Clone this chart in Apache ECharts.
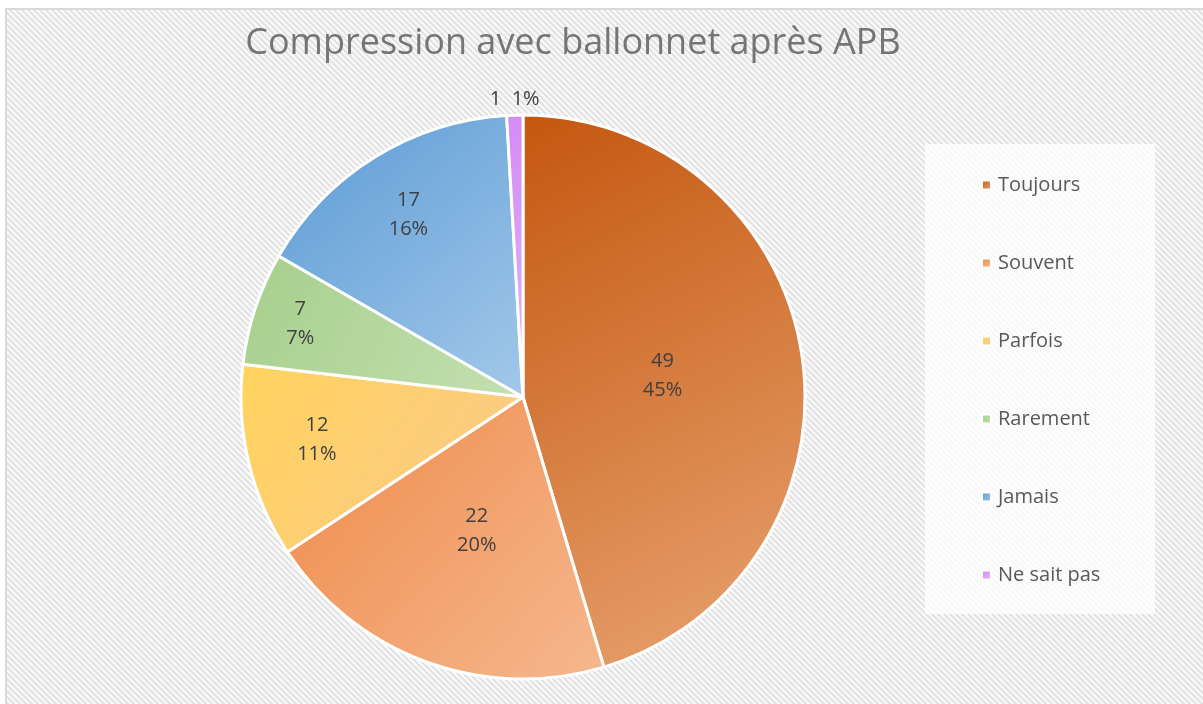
<!DOCTYPE html>
<html>
<head>
<meta charset="utf-8">
<script src="https://cdn.jsdelivr.net/npm/echarts@6/dist/echarts.min.js"></script>
<style>
  html, body { margin: 0; padding: 0; background: #fff; }
  #chart { width: 1203px; height: 704px; }
</style>
</head>
<body>
<div id="chart"></div>
<script>
// donnees
var categories = ['Toujours', 'Souvent', 'Parfois', 'Rarement', 'Jamais', 'Ne sait pas'];
var counts = [49, 22, 12, 7, 17, 1];
var percentLabels = ['45%', '20%', '11%', '7%', '16%', '1%'];

// couleurs type Excel (debut / fin du degrade)
var colorsFrom = ['#C4570F', '#EF8A4A', '#FFD45E', '#A6CF8B', '#5B9BD5', '#D48CF5'];
var colorsTo = ['#E9A472', '#F5B88E', '#FBC98C', '#C4E0B2', '#A3C8EA', '#E2B4F8'];

// decalage des etiquettes (Excel "meilleur ajustement")
var labelNudge = {
  'Toujours': [-3, 0],
  'Souvent': [3, -2],
  'Parfois': [-66, 10],
  'Rarement': [-86, -28],
  'Jamais': [-39, -60]
};

function hatch() {
  var c = document.createElement('canvas');
  c.width = 6; c.height = 6;
  var g = c.getContext('2d');
  g.fillStyle = '#fbfbfb';
  g.fillRect(0, 0, 6, 6);
  g.strokeStyle = '#e2e2e2';
  g.lineWidth = 2.2;
  g.beginPath();
  g.moveTo(-1, -1); g.lineTo(7, 7);
  g.moveTo(-4, 2); g.lineTo(4, 10);
  g.moveTo(2, -4); g.lineTo(10, 4);
  g.stroke();
  return c;
}

var pieData = [];
for (var i = 0; i < categories.length; i++) {
  var item = {
    name: categories[i],
    value: counts[i],
    pct: percentLabels[i],
    itemStyle: {
      color: new echarts.graphic.LinearGradient(0, 0, 1, 1, [
        { offset: 0, color: colorsFrom[i] },
        { offset: 1, color: colorsTo[i] }
      ])
    }
  };
  if (labelNudge[categories[i]]) {
    item.label = { offset: labelNudge[categories[i]] };
  }
  if (categories[i] == 'Ne sait pas') {
    item.label = {
      position: 'outside',
      formatter: function (p) { return p.value + '  ' + p.data.pct; },
      align: 'center',
      offset: [30, -10]
    };
    item.labelLine = { show: false, length: 6, length2: 0 };
  }
  pieData.push(item);
}

var chart = echarts.init(document.getElementById('chart'));
chart.setOption({
  animation: false,
  graphic: [
    {
      type: 'rect', z: -10,
      shape: { x: 6, y: 9, width: 1205, height: 700 },
      style: { fill: { image: hatch(), repeat: 'repeat' }, stroke: '#d9d9d9', lineWidth: 2 }
    },
    {
      type: 'rect', z: -9,
      shape: { x: 925, y: 144, width: 230, height: 470 },
      style: { fill: 'rgba(255,255,255,0.75)' }
    }
  ],
  title: {
    text: 'Compression avec ballonnet après APB',
    left: 568, top: 21, textAlign: 'center',
    textStyle: { fontFamily: 'Open Sans', fontWeight: 'normal', fontSize: 36, color: '#757575' }
  },
  legend: {
    orient: 'vertical',
    left: 976, top: 170,
    itemWidth: 9, itemHeight: 9, itemGap: 58,
    icon: 'rect',
    data: categories,
    textStyle: { fontFamily: 'Open Sans', fontSize: 20, color: '#595959', lineHeight: 20, padding: [0, 0, 0, 2] }
  },
  series: [{
    type: 'pie',
    center: [523, 397],
    radius: [0, 282],
    startAngle: 90,
    clockwise: true,
    itemStyle: { borderColor: '#fff', borderWidth: 3 },
    label: {
      position: 'inside',
      formatter: function (p) { return p.value + '\n' + p.data.pct; },
      fontFamily: 'Open Sans', fontSize: 20, color: '#404040', lineHeight: 29
    },
    emphasis: { disabled: true },
    data: pieData
  }]
});
</script>
</body>
</html>
